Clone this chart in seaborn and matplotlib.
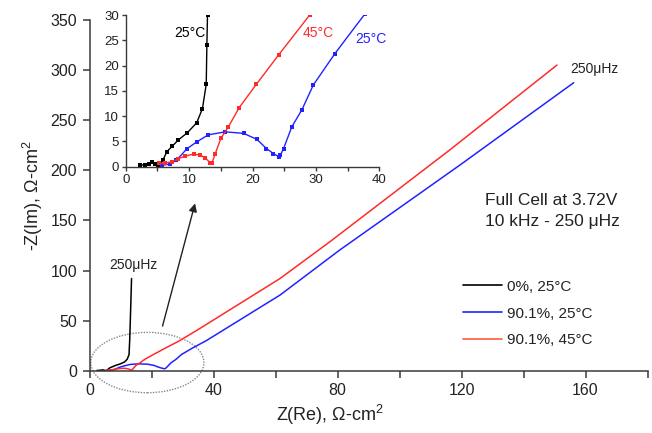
import numpy as np
import pandas as pd
import matplotlib
matplotlib.use("Agg")
import matplotlib.pyplot as plt
import seaborn as sns
from matplotlib.lines import Line2D
from matplotlib.patches import Ellipse

# ---------------- data ----------------
black_x = [2.3, 3.0, 3.6, 4.1, 4.6, 5.1, 5.4, 5.9, 6.5, 7.3, 8.3, 9.7, 11.2, 12.1, 12.7, 12.8, 12.9, 13.2, 13.5]
black_y = [0.3, 0.4, 0.6, 0.9, 0.6, 0.1, 0.3, 1.4, 3.0, 4.0, 5.3, 6.7, 8.7, 11.5, 16.3, 24.0, 30.0, 60.0, 92.0]

blue_x = [5.7, 7.0, 8.0, 9.7, 11.2, 13.0, 15.7, 18.6, 20.7, 22.2, 23.3, 24.1, 24.4, 24.9, 26.2, 27.8, 29.6, 33.0, 37.7,
          61.4, 80.7, 119.5, 156.2]
blue_y = [0.3, 0.5, 1.3, 3.6, 4.9, 6.3, 6.9, 6.6, 5.4, 3.6, 2.6, 2.0, 2.3, 3.6, 7.9, 11.3, 16.2, 22.4, 30.2,
          75.5, 120.5, 205.3, 287.4]

red_x = [5.3, 6.2, 7.3, 8.3, 9.4, 10.7, 11.7, 12.5, 13.3, 13.6, 14.1, 15.0, 16.2, 17.9, 20.6, 24.1, 29.0,
         35.6, 61.4, 77.5, 116.2, 150.8]
red_y = [0.7, 0.7, 1.0, 1.6, 2.1, 2.5, 2.3, 1.8, 0.8, 0.7, 2.5, 5.6, 7.9, 11.7, 16.3, 22.1, 30.0,
         42.3, 92.0, 128.7, 220.3, 305.0]

series_names = ["0%, 25°C", "90.1%, 25°C", "90.1%, 45°C"]
series_colors = ["black", "#2222ff", "#ff2a2a"]
legend_colors = ["black", "#2222ff", "#ff5a3c"]

main_xticks = [0, 20, 40, 60, 80, 100, 120, 140, 160, 180]
main_xlabels = ["0", "", "40", "", "80", "", "120", "", "160", ""]
main_yticks = [0, 50, 100, 150, 200, 250, 300, 350]
inset_xticks = [0, 5, 10, 15, 20, 25, 30, 35, 40]
inset_xlabels = ["0", "", "10", "", "20", "", "30", "", "40"]
inset_yticks = [0, 5, 10, 15, 20, 25, 30]

df = pd.concat([
    pd.DataFrame({"x": black_x, "y": black_y, "s": series_names[0]}),
    pd.DataFrame({"x": blue_x, "y": blue_y, "s": series_names[1]}),
    pd.DataFrame({"x": red_x, "y": red_y, "s": series_names[2]}),
], ignore_index=True)
palette = dict(zip(series_names, series_colors))

# ---------------- style ----------------
sns.set_theme(style="ticks")
plt.rcParams["font.family"] = ["Liberation Sans", "DejaVu Sans"]
plt.rcParams["mathtext.fontset"] = "custom"
plt.rcParams["mathtext.rm"] = "Liberation Sans"
plt.rcParams["mathtext.it"] = "Liberation Sans:italic"
spine_c = "#3a3a3a"
text_c = "#222222"

fig = plt.figure(figsize=(6.52, 4.33), dpi=100)
ax = fig.add_axes([0.1376, 0.1437, 0.8555, 0.8103])

sns.lineplot(data=df, x="x", y="y", hue="s", palette=palette, sort=False,
             estimator=None, legend=False, ax=ax, linewidth=1.1)
ax.set_xlim(0, 180)
ax.set_ylim(0, 350)
ax.set_xticks(main_xticks)
ax.set_xticklabels(main_xlabels)
ax.set_yticks(main_yticks)
ax.tick_params(axis="both", direction="out", length=5, width=1.1, color=spine_c,
               labelsize=11.5, labelcolor=text_c, pad=4)
for side in ["top", "right"]:
    ax.spines[side].set_visible(False)
for side in ["left", "bottom"]:
    ax.spines[side].set_color(spine_c)
    ax.spines[side].set_linewidth(1.1)

ax.set_xlabel("Z(Re), Ω-cm$^2$", fontsize=13, color=text_c, labelpad=3, x=0.43)
ax.set_ylabel("-Z(Im), Ω-cm$^2$", fontsize=13, color=text_c, labelpad=4)

# annotations
ax.text(6.3, 106, "250μHz", fontsize=10, color=text_c, va="center", ha="left")
ax.text(155, 301, "250μHz", fontsize=10, color=text_c, va="center", ha="left")
ax.text(127.5, 159, "Full Cell at 3.72V\n10 kHz - 250 μHz", fontsize=12.5, color=text_c,
        va="center", ha="left", linespacing=1.5)

ell = Ellipse((18.6, 8.2), 36.5, 60.2, fill=False, edgecolor="#888888",
              linestyle=(0, (1, 1)), linewidth=1.0, clip_on=False)
ax.add_patch(ell)
ax.annotate("", xy=(34, 167), xytext=(23.5, 44.6),
            arrowprops=dict(arrowstyle="-|>", color="#222222", lw=1.0,
                            mutation_scale=12, shrinkA=0, shrinkB=0),
            annotation_clip=False)

handles = [Line2D([], [], color=c, lw=1.2) for c in legend_colors]
leg = ax.legend(handles, series_names, loc="center left",
                bbox_to_anchor=(462.7 / 652, (433 - 313.5) / 433),
                bbox_transform=fig.transFigure, frameon=False, fontsize=11,
                handlelength=2.55, handletextpad=0.35, labelspacing=0.85,
                borderpad=0, borderaxespad=0)
for t in leg.get_texts():
    t.set_color(text_c)

# ---------------- inset ----------------
axi = fig.add_axes([0.1928, 0.615, 0.389, 0.350])
axi.set_facecolor("white")
sns.lineplot(data=df, x="x", y="y", hue="s", palette=palette, sort=False,
             estimator=None, legend=False, ax=axi, linewidth=1.0,
             marker="s", markersize=2.4, markeredgewidth=0)
axi.set_xlim(0, 40)
axi.set_ylim(0, 30)
axi.set_xticks(inset_xticks)
axi.set_xticklabels(inset_xlabels)
axi.set_yticks(inset_yticks)
axi.set_xlabel("")
axi.set_ylabel("")
axi.tick_params(axis="both", direction="out", length=3, width=1.0, color=spine_c,
                labelsize=9.5, labelcolor=text_c, pad=2)
for side in ["top", "right"]:
    axi.spines[side].set_visible(False)
for side in ["left", "bottom"]:
    axi.spines[side].set_color(spine_c)
    axi.spines[side].set_linewidth(1.0)

axi.text(7.6, 26.4, "25°C", fontsize=10, color="black", va="center", ha="left")
axi.text(27.9, 26.4, "45°C", fontsize=10, color="#ff2a2a", va="center", ha="left")
axi.text(36.2, 25.2, "25°C", fontsize=10, color="#2222ff", va="center", ha="left")

fig.savefig("out.png", dpi=100)
